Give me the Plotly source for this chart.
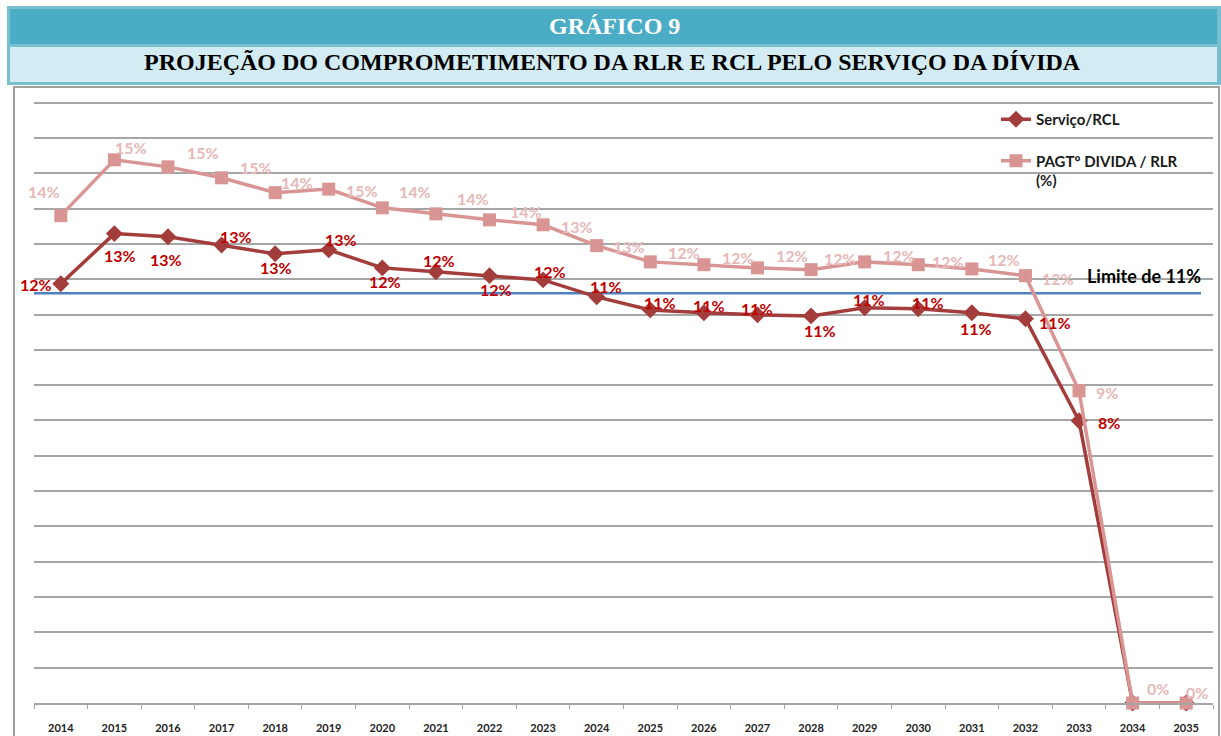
import plotly.graph_objects as go

# ---------------- data ----------------
years = [str(y) for y in range(2014, 2036)]

servico_rcl = [11.87, 13.29, 13.20, 12.97, 12.72, 12.83, 12.32, 12.21, 12.10, 11.98,
               11.50, 11.13, 11.05, 10.99, 10.96, 11.19, 11.16, 11.05, 10.88, 7.99,
               0.0, 0.0]
servico_labels = ["12%", "13%", "13%", "13%", "13%", "13%", "12%", "12%", "12%", "12%",
                  "11%", "11%", "11%", "11%", "11%", "11%", "11%", "11%", "11%", "8%",
                  "", ""]

pagto_rlr = [13.80, 15.38, 15.18, 14.87, 14.45, 14.55, 14.02, 13.85, 13.68, 13.54,
             12.95, 12.49, 12.41, 12.32, 12.27, 12.49, 12.41, 12.29, 12.10, 8.84,
             0.0, 0.0]
pagto_labels = ["14%", "15%", "15%", "15%", "14%", "15%", "14%", "14%", "14%", "13%",
                "13%", "12%", "12%", "12%", "12%", "12%", "12%", "12%", "12%", "9%",
                "0%", "0%"]

limit_value = 11.6   # where the "Limite de 11%" line sits in the picture
limit_text = "Limite de 11%"

title_1 = "GRÁFICO 9"
title_2 = "PROJEÇÃO DO COMPROMETIMENTO DA RLR E RCL PELO SERVIÇO DA DÍVIDA"

# ---------------- layout geometry / style ----------------
W, H = 1221, 736
ML, MR, MT, MB = 34, 8, 92, 33
PW, PH = W - ML - MR, H - MT - MB
Y_MAX = 17.3


def px_x(px):
    return (px - ML) / PW


def px_y(py):
    return (H - MB - py) / PH


FONT = "Lato"
DARK = "#A33D3B"
LIGHT = "#D99594"
DARK_LBL = "#C00000"
LIGHT_LBL = "#E6B8B7"
GRID = "#A6A6A6"

# label placement (pixel offsets from the point: right, down)
servico_off = [(-25, 1), (6, 22), (-2, 23), (14, -8), (1, 14), (12, -10), (3, 14), (3, -11),
               (6, 14), (7, -8), (9, -10), (10, -7), (5, -7), (0, -6), (9, 15), (4, -8),
               (10, -6), (4, 16), (30, 4), (30, 2), (0, 0), (0, 0)]
pagto_off = [(-17, -24), (17, -12), (35, -14), (34, -10), (22, -10), (33, 1), (33, -16),
             (37, -15), (36, -8), (34, 2), (32, 1), (34, -9), (34, -7), (35, -12), (29, -11),
             (34, -6), (30, -3), (32, -9), (33, 3), (28, 2), (25, -15), (11, -11)]

fig = go.Figure()

fig.add_trace(go.Scatter(
    x=years, y=servico_rcl, name="Serviço/RCL",
    mode="lines+markers",
    line=dict(color=DARK, width=3.5),
    marker=dict(symbol="diamond", size=13, color=DARK),
    legendgroup="a", cliponaxis=False,
))

fig.add_trace(go.Scatter(
    x=years, y=pagto_rlr, name="PAGTº DIVIDA / RLR<br>(%)",
    mode="lines+markers",
    line=dict(color=LIGHT, width=3.5),
    marker=dict(symbol="square", size=13, color=LIGHT),
    legendgroup="b", cliponaxis=False,
))

shapes = [
    # header outer border
    dict(type="rect", xref="paper", yref="paper", x0=px_x(7), x1=px_x(1221), y0=px_y(85), y1=px_y(6),
         fillcolor="#78BFD1", line=dict(width=0), layer="below"),
    dict(type="rect", xref="paper", yref="paper", x0=px_x(10), x1=px_x(1217), y0=px_y(44), y1=px_y(9),
         fillcolor="#4BACC6", line=dict(width=0), layer="below"),
    dict(type="rect", xref="paper", yref="paper", x0=px_x(10), x1=px_x(1217), y0=px_y(82), y1=px_y(47),
         fillcolor="#D3EBF2", line=dict(width=0), layer="below"),
    # chart frame
    dict(type="rect", xref="paper", yref="paper", x0=px_x(14), x1=px_x(1219), y0=px_y(745), y1=px_y(87),
         fillcolor="rgba(0,0,0,0)", line=dict(color="#A0A0A0", width=2), layer="below"),
    # limit line
    dict(type="line", xref="paper", yref="y", x0=0, x1=px_x(1201), y0=limit_value, y1=limit_value,
         line=dict(color="#4F81BD", width=2.5), layer="below"),
]

annotations = [
    dict(text="<b>" + title_1 + "</b>", xref="paper", yref="paper", x=px_x(614), y=px_y(26),
         showarrow=False, font=dict(family="Liberation Serif", size=24, color="white"),
         xanchor="center", yanchor="middle"),
    dict(text="<b>" + title_2 + "</b>", xref="paper", yref="paper", x=px_x(612), y=px_y(62),
         showarrow=False, font=dict(family="Liberation Serif", size=24, color="black"),
         xanchor="center", yanchor="middle"),
    dict(text="<b>" + limit_text + "</b>", xref="paper", yref="paper", x=px_x(1144), y=px_y(276),
         showarrow=False, font=dict(family=FONT, size=18, color="black"),
         xanchor="center", yanchor="middle"),
]

# data labels: category axes take the category's serial number as annotation position
for i, (val, lbl, (dx, dy)) in enumerate(zip(pagto_rlr, pagto_labels, pagto_off)):
    if lbl:
        annotations.append(dict(text="<b>" + lbl + "</b>", x=i, y=val, xref="x", yref="y",
                                xshift=dx, yshift=-dy, showarrow=False,
                                xanchor="center", yanchor="middle",
                                font=dict(family=FONT, size=16, color=LIGHT_LBL)))
for i, (val, lbl, (dx, dy)) in enumerate(zip(servico_rcl, servico_labels, servico_off)):
    if lbl:
        annotations.append(dict(text="<b>" + lbl + "</b>", x=i, y=val, xref="x", yref="y",
                                xshift=dx, yshift=-dy, showarrow=False,
                                xanchor="center", yanchor="middle",
                                font=dict(family=FONT, size=16, color=DARK_LBL)))

fig.update_layout(
    width=W, height=H,
    margin=dict(l=ML, r=MR, t=MT, b=MB, autoexpand=False),
    paper_bgcolor="white", plot_bgcolor="white",
    shapes=shapes, annotations=annotations,
    showlegend=True,
    legend=dict(x=px_x(996), y=px_y(103), xanchor="left", yanchor="top",
                font=dict(family=FONT, size=15, color="#1a1a1a", weight="bold"),
                bgcolor="rgba(0,0,0,0)", tracegroupgap=19, traceorder="grouped",
                valign="top"),
    xaxis=dict(type="category", range=[-0.5, len(years) - 0.5], autorange=False,
               showgrid=False, showline=True, linecolor=GRID, linewidth=1.5,
               ticks="outside", tickson="boundaries", ticklen=4, tickcolor=GRID,
               tickfont=dict(family=FONT, size=11, color="#222222", weight="bold"),
               ticklabelstandoff=14, automargin=False, fixedrange=True),
    yaxis=dict(range=[0, Y_MAX], dtick=1, tick0=0, showgrid=True, gridcolor=GRID, gridwidth=1.5,
               showticklabels=False, zeroline=False, showline=False, automargin=False,
               fixedrange=True),
)

fig.write_html("out.html", config={"displayModeBar": False},
               post_script="document.body.style.margin='0';")
